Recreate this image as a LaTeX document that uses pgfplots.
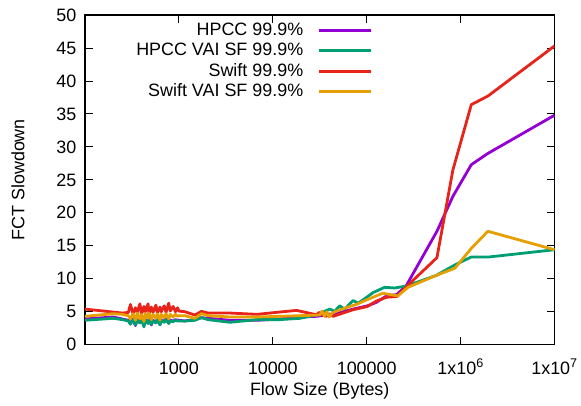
\documentclass[border=0pt]{standalone}
\usepackage{fontspec}
\setmainfont{Liberation Sans}
\usepackage{pgfplots}
\pgfplotsset{compat=1.18}
\definecolor{cpurple}{HTML}{9400D3}
\definecolor{cgreen}{HTML}{009E73}
\definecolor{cred}{HTML}{E8231A}
\definecolor{corange}{HTML}{E69F00}
\begin{document}
\begin{tikzpicture}[font=\fontsize{18}{21}\selectfont]
\begin{axis}[
  name=ax,
  scale only axis, width=470bp, height=330bp,
  xmode=log, xmin=100, xmax=1e7,
  ymin=0, ymax=50, ytick={0,5,...,50},
  xtick={1000,10000,100000,1000000,10000000},
  xticklabels={1000,10000,100000,1x10\textsuperscript{6},1x10\textsuperscript{7}},
  log basis x=10,
  /pgf/number format/assume math mode=true,
  minor y tick num=0,
  tick align=inside,
  major tick length=8bp, minor tick length=4bp,
  axis line style={line width=1.2bp},
  every tick/.style={black, line width=0.8bp},
  yticklabel style={xshift=-5bp},
  xticklabel style={text height=13bp, yshift=-13bp},
  xlabel={Flow Size (Bytes)}, ylabel={FCT Slowdown},
  xlabel style={yshift=-1bp}, ylabel style={yshift=25bp},
  legend plot pos=right, legend cell align=right,
  legend style={draw=none, fill=none, at={(rel axis cs:0.614,0.983)}, anchor=north east,
    row sep=2.2bp, inner sep=1bp,
    nodes={inner sep=1bp, text height=13bp, text depth=3bp}},
  legend image code/.code={\path (0bp,0bp); \draw[#1, line width=3bp] (13bp,0bp) -- (65bp,0bp);},
]
% HPCC 99.9%
\addplot[cpurple, no marks, line width=2.8bp, line join=round] coordinates {
(100,3.9) (200,4.2) (250,3.9)
(290,3.7) (305,3.2) (325,3.9) (345,2.9) (360,3.8) (385,3.4) (400,4.0) (425,3.0) (440,3.8) (470,3.3) (480,3.9) (510,3.0) (530,3.7) (570,3.4) (590,3.9) (630,3.1) (650,3.8) (700,3.5) (730,3.9) (780,3.3) (810,3.7) (870,3.6) (920,3.8) (970,3.7) (1000,3.7)
(1160,3.6) (1480,3.8) (1740,4.1) (2050,4.0) (3500,3.7) (6800,3.7) (11800,3.9) (19500,4.2) (29000,4.3) (44000,4.6) (72000,5.4) (102000,5.9) (126000,6.4) (163000,7.4) (209000,7.6) (265000,9.0) (560000,17.2) (828000,22.5) (1300000,27.3) (1950000,29.0) (10000000,34.8)
};
\addlegendentry{HPCC 99.9\%}
% HPCC VAI SF
\addplot[cgreen, no marks, line width=2.8bp, line join=round] coordinates {
(100,3.7) (200,4.0) (250,3.8)
(290,3.6) (305,3.1) (325,3.8) (345,3.0) (360,3.7) (385,3.3) (400,3.9) (425,2.7) (440,3.7) (470,3.2) (480,3.8) (510,3.1) (530,3.6) (570,3.3) (590,3.8) (630,3.0) (650,3.7) (700,3.4) (730,3.8) (780,3.2) (810,3.6) (870,3.5) (920,3.7) (970,3.6) (1000,3.6)
(1160,3.6) (1480,3.7) (1740,4.1) (2050,3.8) (3500,3.4) (6800,3.8) (11800,3.8) (19500,4.0) (29000,4.5) (40400,5.4) (45700,5.05) (51500,5.9) (58400,5.4) (71600,6.7) (81000,6.3) (91500,6.8) (117000,7.9) (155000,8.7) (199000,8.6) (265000,8.9) (549000,10.5) (870000,12.1) (1300000,13.3) (2000000,13.3) (10000000,14.4)
};
\addlegendentry{HPCC VAI SF 99.9\%}
% Swift
\addplot[cred, no marks, line width=2.8bp, line join=round] coordinates {
(100,5.4) (250,4.8)
(290,4.9) (305,6.1) (325,4.7) (345,5.6) (360,4.9) (385,6.2) (400,4.6) (425,5.8) (440,5.0) (470,6.2) (480,4.7) (510,5.7) (530,4.9) (570,6.0) (590,4.8) (630,5.7) (650,5.0) (700,5.9) (730,4.9) (780,6.3) (810,5.1) (870,5.8) (920,5.0) (970,5.6) (1000,5.1)
(1160,5.0) (1480,4.5) (1740,5.05) (2050,4.8) (3500,4.8) (6800,4.6) (11800,4.95) (17900,5.2) (29000,4.55) (31500,4.9) (34000,4.5) (37000,4.3) (40000,4.7) (43900,4.3) (71600,5.3) (102000,5.8) (126000,6.6) (163000,7.2) (209000,7.3) (265000,8.8) (560000,13.2) (828000,26.5) (1300000,36.4) (1950000,37.7) (10000000,45.3)
};
\addlegendentry{Swift 99.9\%}
% Swift VAI SF
\addplot[corange, no marks, line width=2.8bp, line join=round] coordinates {
(100,4.3) (200,4.7) (250,4.6)
(290,4.4) (305,3.9) (325,4.7) (345,3.7) (360,4.8) (385,3.9) (400,4.6) (425,3.5) (440,4.7) (470,4.0) (480,4.8) (510,3.8) (530,4.6) (570,4.0) (590,4.7) (630,3.7) (650,4.6) (700,4.1) (730,4.7) (780,3.9) (810,4.6) (870,4.2) (920,4.6) (970,4.3) (1000,4.4)
(1160,4.4) (1480,4.0) (1740,4.7) (2050,4.4) (3500,4.2) (6800,4.2) (11800,4.3) (19500,4.4) (31600,4.5) (33500,5.1) (35500,4.3) (37500,5.0) (40000,4.2) (43000,4.8) (46000,5.0) (60000,5.6) (77500,6.1) (100000,6.8) (148000,7.8) (215000,7.4) (275000,8.7) (549000,10.5) (870000,11.6) (1300000,14.6) (1950000,17.2) (10000000,14.4)
};
\addlegendentry{Swift VAI SF 99.9\%}
\end{axis}
\path (ax.south west) ++(-85bp,-61bp);
\path (ax.north east) ++(26bp,15bp);
\end{tikzpicture}
\end{document}
